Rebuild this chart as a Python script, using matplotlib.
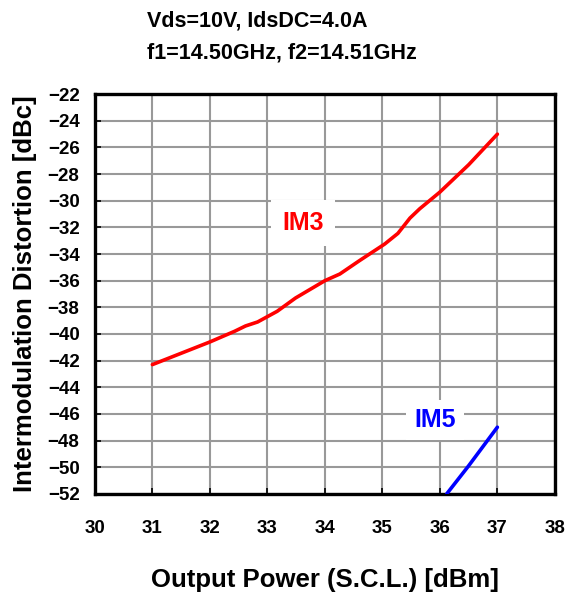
import matplotlib
matplotlib.use("Agg")
import matplotlib.pyplot as plt

# ------------------------------------------------------------- data
# output power [dBm] vs intermodulation distortion [dBc]
im3_pout = [31.0, 32.0, 32.43, 32.62, 32.83, 33.0, 33.17, 33.49, 34.0, 34.26,
            34.6, 35.04, 35.27, 35.48, 35.65, 36.0, 36.5, 37.0]
im3_dbc = [-42.3, -40.6, -39.8, -39.4, -39.1, -38.7, -38.3, -37.3, -36.0,
           -35.5, -34.5, -33.25, -32.45, -31.3, -30.6, -29.35, -27.3, -25.0]

im5_pout = [36.12, 36.5, 37.0]
im5_dbc = [-52.0, -49.9, -47.0]

x_ticks = list(range(30, 39))
y_ticks = list(range(-52, -21, 2))

plt.rcParams["font.family"] = ["Liberation Sans", "DejaVu Sans"]
plt.rcParams["font.weight"] = "bold"

fig = plt.figure(figsize=(5.75, 6.0), dpi=100)
ax = fig.add_axes([0.165, 0.177, 0.8, 0.666])

ax.plot(im3_pout, im3_dbc, color="#ff0000", lw=2.6, solid_capstyle="round",
        zorder=3)
ax.plot(im5_pout, im5_dbc, color="#0000ff", lw=2.6, solid_capstyle="round",
        zorder=3)

ax.set_xlim(30, 38)
ax.set_ylim(-52, -22)
ax.set_xticks(x_ticks)
ax.set_yticks(y_ticks)
ax.grid(True, color="#999999", lw=1.5)
ax.set_axisbelow(True)

for sp in ax.spines.values():
    sp.set_linewidth(2.4)
    sp.set_color("black")

ax.tick_params(axis="both", direction="in", length=4, width=1.2,
               labelsize=13.5, top=False, right=False)
ax.tick_params(axis="x", pad=19)
ax.tick_params(axis="y", pad=11)
for lbl in ax.get_xticklabels() + ax.get_yticklabels():
    lbl.set_fontweight("bold")

ax.set_xlabel("Output Power (S.C.L.) [dBm]", fontsize=18.5,
              fontweight="bold", labelpad=22)
ax.set_ylabel("Intermodulation Distortion [dBc]", fontsize=18.5,
              fontweight="bold", labelpad=8)

ax.text(33.62, -31.7, "IM3", color="#ff0000", fontsize=18, fontweight="bold",
        ha="center", va="center", zorder=4,
        bbox=dict(facecolor="white", edgecolor="none", pad=8))
ax.text(35.91, -46.45, "IM5", color="#0000ff", fontsize=18, fontweight="bold",
        ha="center", va="center", zorder=4,
        bbox=dict(facecolor="white", edgecolor="none", pad=6))

fig.text(0.256, 0.983, "Vds=10V, IdsDC=4.0A\nf1=14.50GHz, f2=14.51GHz",
         ha="left", va="top", fontsize=15.5, fontweight="bold",
         linespacing=1.7)

fig.savefig("out.png", dpi=100)
